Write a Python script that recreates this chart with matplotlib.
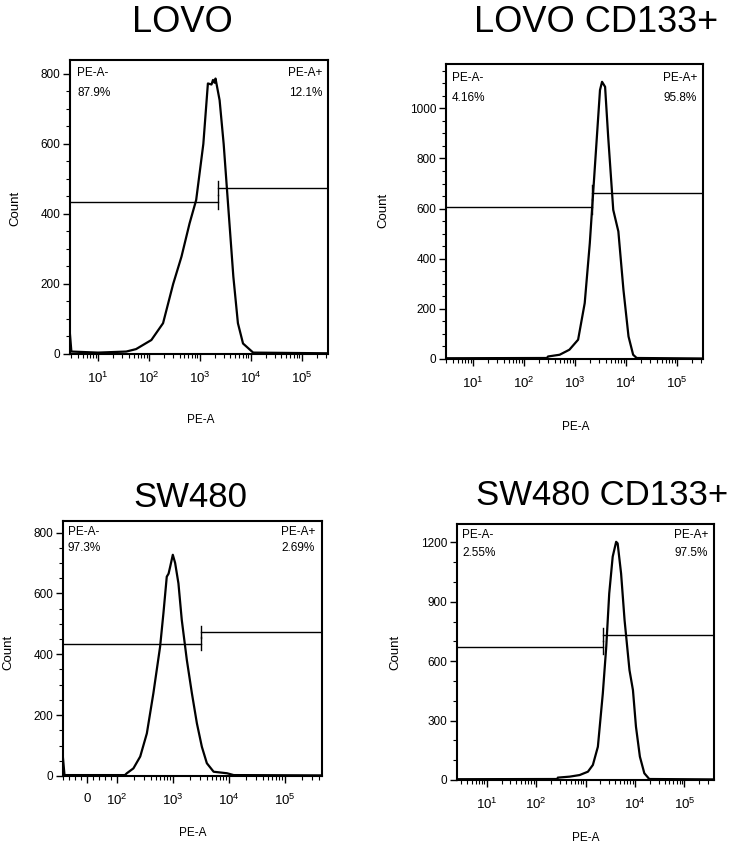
"""
Flow cytometry PE-A histograms: LOVO / SW480, unsorted vs CD133+ sorted.
Output: out.png (734x844)
"""
import matplotlib
matplotlib.use("Agg")
import matplotlib.pyplot as plt
from matplotlib.ticker import AutoMinorLocator, LogLocator, NullFormatter, FixedLocator

plt.rcParams['font.family'] = ['Liberation Sans', 'DejaVu Sans']
plt.rcParams['mathtext.default'] = 'regular'

TITLES = ["LOVO", "LOVO CD133+", "SW480", "SW480 CD133+"]
NEG_PCT = ["87.9%", "4.16%", "97.3%", "2.55%"]
POS_PCT = ["12.1%", "95.8%", "2.69%", "97.5%"]

# gate boundary (PE-A) and the heights of the two gate bars (Count)
GATE_X = [2240, 2200, 3200, 2240]
GATE_NEG_Y = [434, 608, 435, 670]
GATE_POS_Y = [474, 664, 473, 734]

# histogram traces (PE-A intensity, Count)
lovo_x = [2.8, 3.0, 10, 36, 56, 112, 190, 300, 437, 630, 850, 1175, 1445,
          1700, 1820, 1950, 2040, 2455, 2950, 3630, 4570, 5620, 7080, 11200, 331000]
lovo_y = [60, 7, 4, 7, 14, 40, 88, 200, 278, 373, 440, 600, 773,
          770, 783, 775, 787, 725, 600, 420, 221, 88, 30, 4, 2]

lovo_cd_x = [2.95, 282, 295, 500, 776, 1150, 1550, 1950, 2455, 3090, 3390,
             3890, 4470, 5620, 7080, 8910, 11200, 13800, 16200, 324000]
lovo_cd_y = [3, 4, 10, 17, 37, 77, 223, 462, 768, 1073, 1106,
             1086, 887, 595, 509, 276, 90, 17, 4, 2]

sw_x = [-80, -75, 140, 151, 198, 262, 344, 450, 593, 680, 780, 840, 898,
        1000, 1100, 1260, 1445, 1780, 2190, 2690, 3300, 4050, 5350, 9300, 12200, 460000]
sw_y = [58, 3, 3, 9, 25, 64, 140, 272, 425, 535, 655, 665, 688,
        727, 700, 633, 513, 381, 272, 173, 96, 42, 14, 9, 3, 2]

sw_cd_x = [2.5, 270, 275, 480, 760, 1120, 1410, 1780, 2240, 2630, 3020,
           3550, 4170, 4470, 5250, 6170, 7760, 9120, 10500, 12600, 15500, 19500, 390000]
sw_cd_y = [4, 5, 12, 17, 25, 42, 76, 168, 437, 673, 942,
           1128, 1203, 1195, 1043, 808, 555, 454, 269, 118, 34, 5, 3]

TRACES = [(lovo_x, lovo_y), (lovo_cd_x, lovo_cd_y), (sw_x, sw_y), (sw_cd_x, sw_cd_y)]

W, H = 734, 844

# layout in pixels: left, top, right, bottom
RECTS = [(70, 60, 328, 354), (446, 64, 703, 359),
         (63, 521, 322, 776), (457, 524, 714, 780)]
YMAX = [840, 1177, 838, 1293]
YSTEP = [200, 200, 200, 300]
YMINOR = [4, 4, 4, 3]
XLIM = [(10**0.45, 10**5.52), (10**0.47, 10**5.51), (-80, 4.6e5), (10**0.40, 10**5.60)]
TITLE_POS = [(182, 32, 26), (596, 32, 26), (190, 507, 25), (602, 505, 25)]
XLAB_POS = [(201, 420), (576, 427), (193, 833), (586, 838)]
YLAB_POS = [(15, 208), (383, 210), (8, 652), (395, 652)]
TXT_OFF = [(7, 6, 13, 33), (6, 6, 14, 34), (5, 7, 11, 27), (5, 6, 11, 29)]


def fx(px):
    return px / W


def fy(py):
    return 1 - py / H


fig = plt.figure(figsize=(W / 100, H / 100), dpi=100)

for i in range(4):
    l, t, r, b = RECTS[i]
    ax = fig.add_axes([fx(l), fy(b), (r - l) / W, (b - t) / H])
    if i == 2:
        ax.set_xscale('symlog', linthresh=100, linscale=0.48)
    else:
        ax.set_xscale('log')

    xs, ys = TRACES[i]
    ax.plot(xs, ys, color='black', lw=1.6, solid_joinstyle='round')

    # bisector gate
    cap = YMAX[i] * 0.025
    x0, x1 = XLIM[i]
    g = GATE_X[i]
    ax.plot([x0, g], [GATE_NEG_Y[i]] * 2, color='black', lw=1.0)
    ax.plot([g, g], [GATE_NEG_Y[i] - cap, GATE_NEG_Y[i] + cap], color='black', lw=1.0)
    ax.plot([g, x1], [GATE_POS_Y[i]] * 2, color='black', lw=1.0)
    ax.plot([g, g], [GATE_POS_Y[i] - cap, GATE_POS_Y[i] + cap], color='black', lw=1.0)

    ax.set_xlim(x0, x1)
    ax.set_ylim(0, YMAX[i])

    # y ticks
    ax.set_yticks(range(0, YMAX[i], YSTEP[i]))
    ax.yaxis.set_minor_locator(AutoMinorLocator(YMINOR[i]))

    # x ticks
    if i == 2:
        major = [0, 1e2, 1e3, 1e4, 1e5]
        labels = ['0'] + [f'$10^{{{k}}}$' for k in range(2, 6)]
        minor = [-80, -60, -40, -20, 20, 40, 60, 80]
        minor += [m * 10**k for k in range(2, 6) for m in range(2, 10)]
        ax.set_xticks(major)
        ax.set_xticklabels(labels)
        ax.xaxis.set_minor_locator(FixedLocator(minor))
    else:
        ax.set_xticks([10**k for k in range(1, 6)])
        ax.set_xticklabels([f'$10^{{{k}}}$' for k in range(1, 6)])
        ax.xaxis.set_minor_locator(LogLocator(base=10, subs=range(2, 10), numticks=20))
    ax.xaxis.set_minor_formatter(NullFormatter())

    ax.tick_params(axis='both', which='major', length=5, width=1.0, labelsize=8.5)
    ax.tick_params(axis='both', which='minor', length=3, width=0.8)
    ax.tick_params(axis='x', which='major', pad=7, labelsize=9.5)
    ax.tick_params(axis='y', pad=2)
    for sp in ax.spines.values():
        sp.set_linewidth(1.5)

    # gate labels
    dl, dr, d1, d2 = TXT_OFF[i]
    ax.annotate("PE-A-", xy=(0, 1), xycoords='axes fraction', xytext=(dl, -d1),
                textcoords='offset pixels', ha='left', va='center', fontsize=8.5)
    ax.annotate(NEG_PCT[i], xy=(0, 1), xycoords='axes fraction', xytext=(dl, -d2),
                textcoords='offset pixels', ha='left', va='center', fontsize=8.5)
    ax.annotate("PE-A+", xy=(1, 1), xycoords='axes fraction', xytext=(-dr, -d1),
                textcoords='offset pixels', ha='right', va='center', fontsize=8.5)
    ax.annotate(POS_PCT[i], xy=(1, 1), xycoords='axes fraction', xytext=(-dr, -d2),
                textcoords='offset pixels', ha='right', va='center', fontsize=8.5)

    tx, ty, ts = TITLE_POS[i]
    fig.text(fx(tx), fy(ty), TITLES[i], ha='center', va='baseline', fontsize=ts)
    fig.text(fx(XLAB_POS[i][0]), fy(XLAB_POS[i][1]), "PE-A", ha='center', va='center',
             fontsize=8.5)
    fig.text(fx(YLAB_POS[i][0]), fy(YLAB_POS[i][1]), "Count", ha='center', va='center',
             rotation=90, fontsize=9.5)

fig.savefig("out.png", dpi=100)
